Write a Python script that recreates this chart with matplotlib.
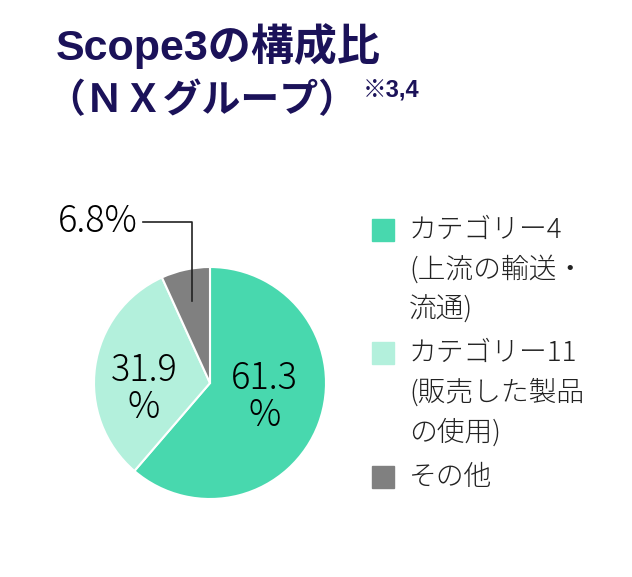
import numpy as np
import matplotlib
matplotlib.use("Agg")
import matplotlib.pyplot as plt

plt.rcParams['font.family'] = ['Noto Sans CJK JP', 'DejaVu Sans']

# データ
categories = ["カテゴリー4\n(上流の輸送・\n流通)", "カテゴリー11\n(販売した製品\nの使用)", "その他"]
values = [61.3, 31.9, 6.8]
colors = ["#48D8AE", "#B3F0DC", "#808080"]

W, H = 632, 577
fig = plt.figure(figsize=(W / 100, H / 100), dpi=100)

# タイトル
navy = "#1B1259"
tfont = ['Liberation Sans', 'Noto Sans CJK JP']
fig.text(56 / W, 1 - 60 / H, "Scope3の構成比", fontsize=31, fontweight="bold",
         color=navy, family=tfont)
fig.text(46 / W, 1 - 112 / H, "（ＮＸグループ）", fontsize=28, fontweight="bold",
         color=navy, family=tfont)
fig.text(363 / W, 1 - 97 / H, "※3,4", fontsize=17, fontweight="bold",
         color=navy, family=tfont)

# 円グラフ
cx, cy, r = 210, 383, 116
ax = fig.add_axes([(cx - r) / W, (H - cy - r) / H, 2 * r / W, 2 * r / H])
wedges, _ = ax.pie(values, colors=colors, startangle=90, counterclock=False,
                   radius=1, wedgeprops=dict(edgecolor="white", linewidth=1.5))
ax.set_xlim(-1, 1)
ax.set_ylim(-1, 1)
ax.set_aspect("equal")
ax.axis("off")

ax.text(0.47, -0.12, f"{values[0]}\n%", ha="center", va="center", fontsize=26,
        linespacing=0.95, fontweight="light")
ax.text(-0.57, -0.05, f"{values[1]}\n%", ha="center", va="center", fontsize=26,
        linespacing=0.95, fontweight="light")

# 引き出し線
w = wedges[2]
mid = np.deg2rad((w.theta1 + w.theta2) / 2)
px, py = 0.72 * np.cos(mid), 0.72 * np.sin(mid)
ly = 1.39
ax.plot([px, px, -0.58], [py, ly, ly], color="#222222", lw=1.2, clip_on=False)
ax.text(-0.62, ly, f"{values[2]}%", ha="right", va="center", fontsize=26,
        fontweight="light")

# 凡例
lx = 372
rows = [230, 353, 477]
for lab, c, ry in zip(categories, colors, rows):
    fig.patches.append(plt.Rectangle((lx / W, 1 - (ry + 11) / H), 22 / W, 22 / H,
                                     transform=fig.transFigure, color=c))
    fig.text(409 / W, 1 - (ry - 14) / H, lab, fontsize=20, va="top", linespacing=1.5,
             color="#222222", fontweight="light")

fig.savefig("out.png", dpi=100)
